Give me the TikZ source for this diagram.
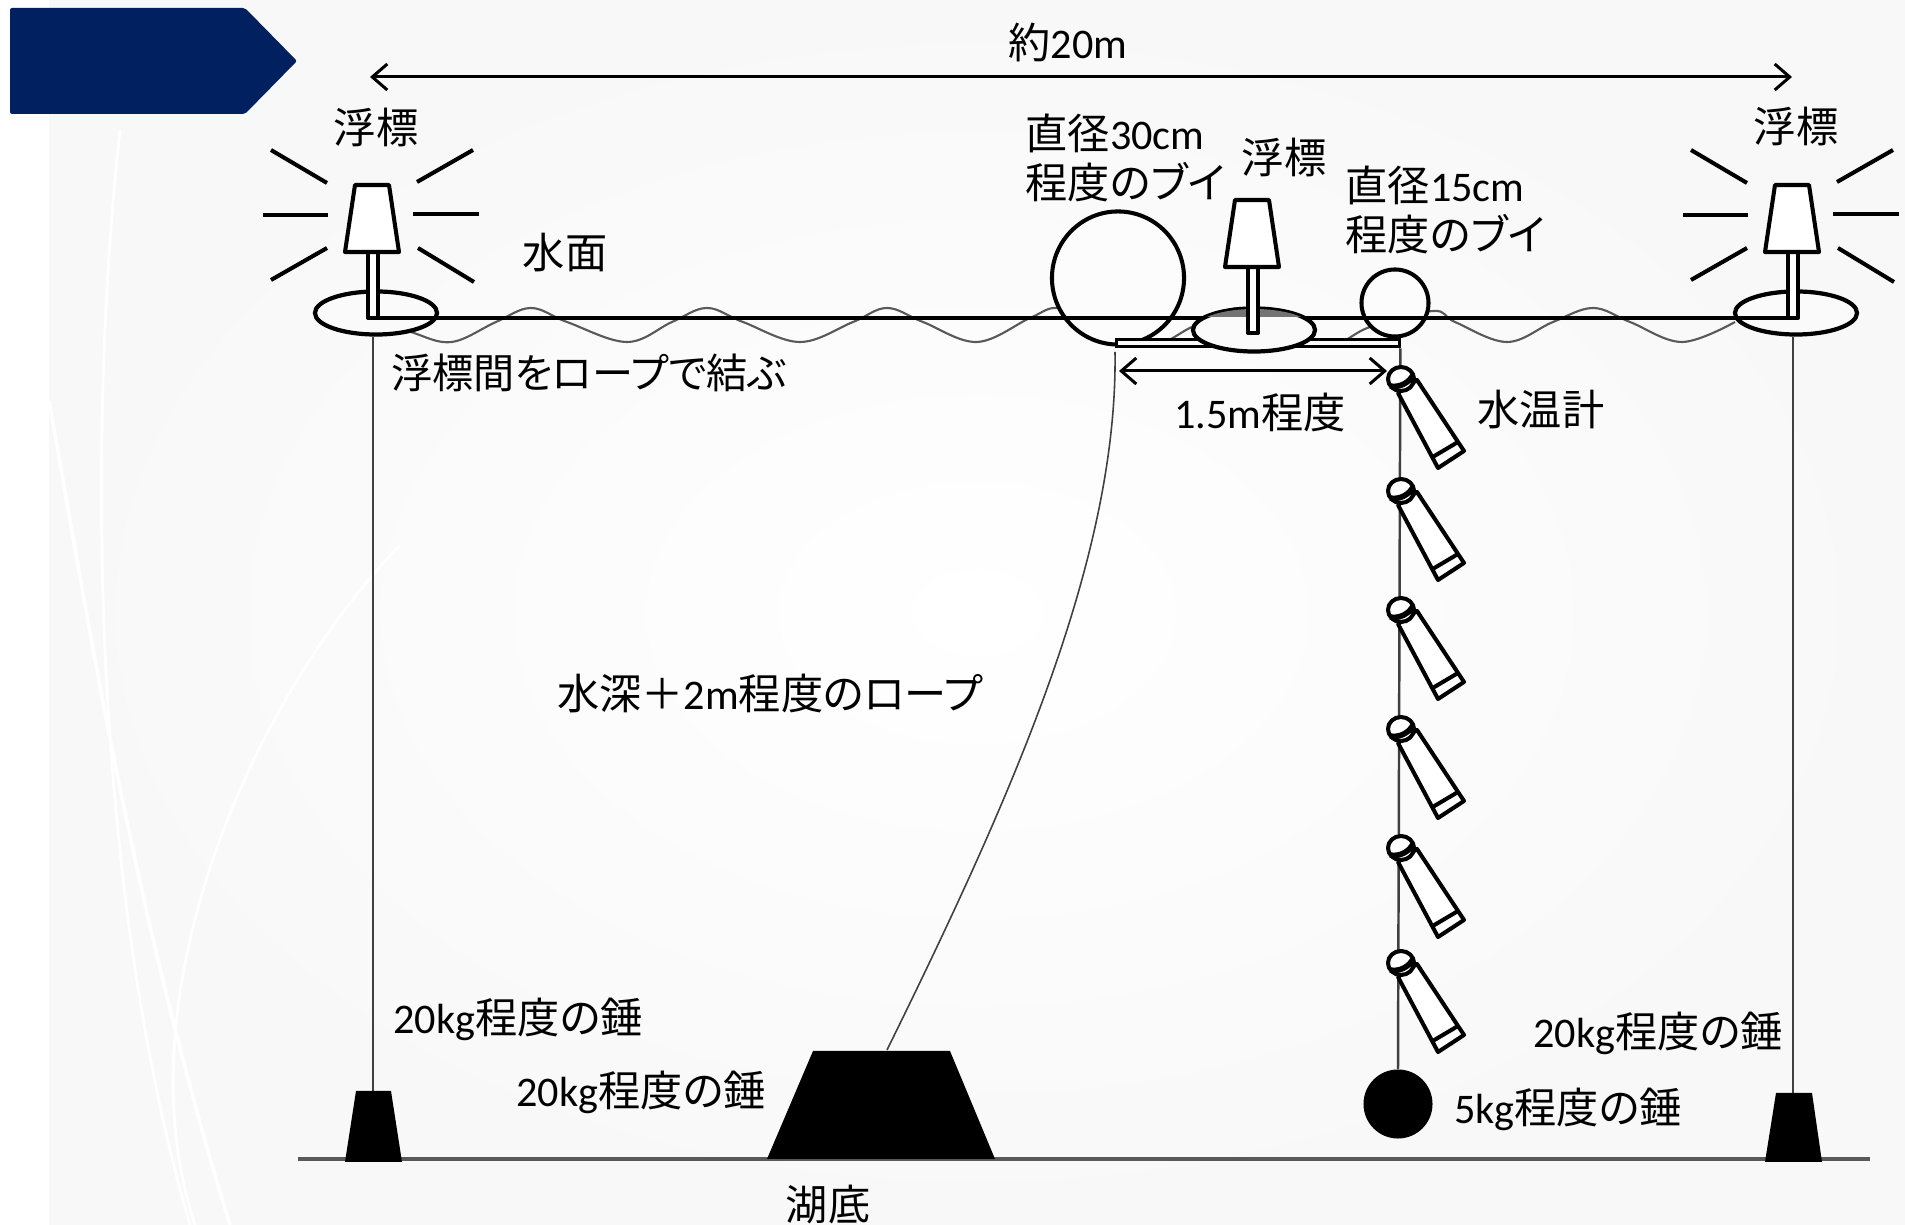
\documentclass[tikz,border=0pt]{standalone}
\usepackage{fontspec}
\setmainfont{Carlito}
\newfontfamily\jpfont[RawFeature=+palt]{Noto Sans CJK JP}
\newcommand{\jp}[1]{{\jpfont #1}}
\usetikzlibrary{shapes.geometric,arrows.meta}
\definecolor{tabblue}{HTML}{002060}
\definecolor{bgcorner}{HTML}{F8F8F8}
\tikzset{
    lamp/.pic={
        \draw[lampline, fill=white] (-5,60) rectangle (5,133);
        \draw[lampline, fill=white] (-18,0) -- (16,0) -- (26,67) -- (-28,67) -- cycle;
    },
    rays/.pic={
        \foreach \ax/\ay/\bx/\by in {-102/-35/-46/-2, 44/-3/100/-35, -110/30/-45/30, 40/29/106/29, -102/95/-46/63, 45/63/101/97}
            \draw[ray] (\ax,\ay) -- (\bx,\by);
    },
    thermo/.pic={
        \draw[lampline, fill=white] (-3,14) -- (16,1) -- (63,72) -- (37,89) -- cycle;
        \draw[lampline] (30,79) -- (57,63);
        \draw[lampline, fill=white] (0,0) ellipse [x radius=13, y radius=12];
        \draw[line width=1.6pt] (-11,7) .. controls (-2,9) and (8,4) .. (12,-4);
    }
}
\begin{document}
\begin{tikzpicture}[
    x=0.01cm, y=-0.01cm,
    lampline/.style={line width=1.15pt, line join=round},
    ray/.style={line width=1.15pt},
    rope/.style={line width=0.7pt, black!75},
    waterline/.style={line width=1pt},
    wave/.style={line width=0.6pt, black!65},
    bedline/.style={line width=1pt, black!65},
    dimline/.style={line width=0.85pt, {Straight Barb[length=1.5mm,width=2.6mm]}-{Straight Barb[length=1.5mm,width=2.6mm]}},
    floatbody/.style={ellipse, draw, line width=1.2pt, fill=black!2, minimum width=1.22cm, minimum height=0.43cm, inner sep=0pt},
    buoy/.style={ellipse, draw, line width=1.15pt, fill=black!1, inner sep=0pt},
    weight/.style={fill=black, line join=round},
    label/.style={font=\fontsize{12}{14}\selectfont, inner sep=0pt, align=left}
    ]
    \useasboundingbox (0,0) rectangle (1905,1225);
    % background
    \fill[white] (0,0) rectangle (1905,1225);
    \shade[inner color=white, outer color=bgcorner] (49,0) rectangle (1905,1225);
    \draw[white, line width=1pt] (49,401) .. controls (85,600) and (130,900) .. (230,1225);
    \draw[white, line width=0.8pt] (120,130) .. controls (85,450) and (95,900) .. (190,1225);
    \draw[white, line width=0.8pt] (400,545) .. controls (250,700) and (120,1000) .. (195,1225);
    \fill[tabblue, rounded corners=0.6pt] (10,8) -- (245,8) -- (297,61) -- (245,114) -- (10,114) -- cycle;

    % water surface
    \draw[wave] plot[smooth, tension=0.6] coordinates {(380,318) (414,333) (452,342) (496,322) (531,308) (567,322) (627,342) (672,322) (707,308) (743,322) (800,342) (853,322) (887,308) (923,322) (977,342) (1030,318) (1057,308) (1090,322) (1148,346) (1194,326) (1240,308) (1285,325) (1330,345) (1370,327) (1433,311) (1455,322) (1507,342) (1553,322) (1593,308) (1630,322) (1682,342) (1735,322)};

    \node[buoy, minimum width=1.32cm, minimum height=1.33cm] (buoyBig) at (1118,278) {};
    \node[buoy, minimum width=0.67cm, minimum height=0.67cm] (buoySmall) at (1395,303) {};
    \node[floatbody] (floatL) at (376,313) {};
    \node[floatbody] (floatR) at (1796,313) {};
    \node[draw, line width=1pt, fill=black!2, minimum width=2.83cm, minimum height=0.07cm, inner sep=0pt] (bar) at (1258,343) {};
    \draw[waterline] (373,318) -- (1795,318);
    \node[floatbody] (floatC) at (1254,330) {};
    \begin{scope}
        \clip (1190,300) rectangle (1320,317);
        \fill[black!55] (floatC.center) ellipse [x radius=60, y radius=21];
    \end{scope}

    % lamps
    \foreach \lampx in {373,1793} {
        \pic at (\lampx,185) {lamp};
        \pic at (\lampx,185) {rays};
    }
    \pic at (1253,200) {lamp};

    % ropes and weights
    \coordinate (weightLtop) at (373,1091);
    \coordinate (weightRtop) at (1793,1093);
    \coordinate (weightCtop) at (887,1050);
    \coordinate (ropeCtop) at (1115,352);
    \coordinate (bedL) at (298,1159);
    \coordinate (bedR) at (1870,1159);
    \draw[rope] (floatL.south -| weightLtop) -- (weightLtop);
    \draw[rope] (floatR.south -| weightRtop) -- (weightRtop);
    \draw[rope, line width=0.45pt] (ropeCtop) .. controls (1118,560) and (1010,800) .. (weightCtop);
    \node[circle, fill=black, minimum size=0.69cm, inner sep=0pt] (ball) at (1398,1104) {};
    \draw[rope] (bar.south east) ++(-1,0) -- (ball.north);
    \draw[bedline] (bedL) -- (bedR);
    \fill[weight] (356,1091) -- (391,1091) -- (402,1162) -- (345,1162) -- cycle;
    \fill[weight] (813,1051) -- (950,1051) -- (995,1159) -- (767,1159) -- cycle;
    \fill[weight] (1776,1093) -- (1812,1093) -- (1822,1162) -- (1765,1162) -- cycle;

    % thermometers
    \foreach \thermoy in {379,491,610,729,848,963}
        \pic at (1401,\thermoy) {thermo};

    % dimensions
    \coordinate (spanL) at (370,77);
    \coordinate (spanR) at (1792,77);
    \coordinate (gapL) at (1119,371);
    \coordinate (gapR) at (1387,371);
    \draw[dimline] (spanL) -- (spanR);
    \draw[dimline] (gapL) -- (gapR);

    % labels
    \node[label] (lblSpan) at (1068,42) {\jp{約}20m};
    \node[label] (lblFloatL) at (376,127) {\jp{浮標}};
    \node[label] (lblFloatC) at (1284,157) {\jp{浮標}};
    \node[label] (lblFloatR) at (1796,126) {\jp{浮標}};
    \node[label] (lblSurface) at (565,253) {\jp{水面}};
    \node[label, font=\fontsize{11.7}{14}\selectfont] (lblLink) at (589,373) {\jp{浮標間をロープで結ぶ}};
    \node[label, anchor=west] (lblBuoyBig) at (1025,158) {\jp{直径}30cm\\\jp{程度のブイ}};
    \node[label, anchor=west] (lblBuoySmall) at (1345,210) {\jp{直径}15cm\\\jp{程度のブイ}};
    \node[label] (lblGap) at (1260,413) {1.5m\jp{程度}};
    \node[label] (lblThermo) at (1541,410) {\jp{水温計}};
    \node[label] (lblDepth) at (770,694) {\jp{水深＋}2m\jp{程度のロープ}};
    \node[label] (lblWeightL) at (518,1019) {20kg\jp{程度の錘}};
    \node[label] (lblWeightC) at (641,1092) {20kg\jp{程度の錘}};
    \node[label] (lblWeightR) at (1658,1033) {20kg\jp{程度の錘}};
    \node[label] (lblBall) at (1568,1109) {5kg\jp{程度の錘}};
    \node[label] (lblBed) at (828,1205) {\jp{湖底}};
\end{tikzpicture}
\end{document}
